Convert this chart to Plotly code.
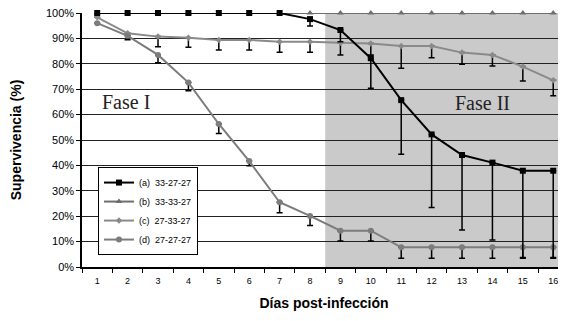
import plotly.graph_objects as go

dias = list(range(1, 17))
tick_labels = [str(d) for d in dias]

serie_a = [100, 100, 100, 100, 100, 100, 100, 97.6, 93.3, 82.2, 65.7, 52.2, 44.1, 41.1, 37.9, 37.9]
err_a = [0, 0, 0, 0, 0, 0, 0, 2.7, 4.6, 11.8, 21.3, 28.8, 29.5, 30.5, 34.2, 34.2]

serie_b = [100] * 16
err_b = [0] * 16

serie_c = [98.3, 92, 90.7, 90.3, 89.4, 89.4, 88.7, 88.7, 88.3, 88, 87, 87, 84.4, 83.5, 78.9, 73.5]
err_c = [0, 0, 4, 3.8, 4, 4, 4.2, 4.2, 4.8, 4.5, 8.8, 4.6, 4.6, 4.4, 5.7, 6.1]

serie_d = [96, 91, 83.5, 72.6, 56.3, 41.7, 25.5, 20.1, 14.3, 14.3, 7.75, 7.75, 7.75, 7.75, 7.75, 7.75]
err_d = [0, 1.5, 3.1, 3.2, 3.7, 1.8, 4.1, 3.8, 4.1, 4.1, 4.3, 4.3, 4.3, 4.3, 4.3, 4.3]

nombres = ["(a)  33-27-27", "(b)  33-33-27", "(c)  27-33-27", "(d)  27-27-27"]

fig = go.Figure()

def err(arr):
    return dict(type="data", symmetric=False, array=[0] * len(arr), arrayminus=arr,
                color="black", thickness=1.5, width=3)

fig.add_trace(go.Scatter(x=dias, y=serie_b, name=nombres[1], mode="lines+markers",
                         line=dict(color="#6e6e6e", width=2), cliponaxis=False,
                         marker=dict(symbol="triangle-up", size=6, color="#6e6e6e"),
                         error_y=err(err_b), legendrank=2))
fig.add_trace(go.Scatter(x=dias, y=serie_c, name=nombres[2], mode="lines+markers",
                         line=dict(color="#8a8a8a", width=2), cliponaxis=False,
                         marker=dict(symbol="diamond", size=5, color="#8a8a8a"),
                         error_y=err(err_c), legendrank=3))
fig.add_trace(go.Scatter(x=dias, y=serie_d, name=nombres[3], mode="lines+markers",
                         line=dict(color="#7c7c7c", width=2), cliponaxis=False,
                         marker=dict(symbol="circle", size=6, color="#7c7c7c"),
                         error_y=err(err_d), legendrank=4))
fig.add_trace(go.Scatter(x=dias, y=serie_a, name=nombres[0], mode="lines+markers",
                         line=dict(color="black", width=2), cliponaxis=False,
                         marker=dict(symbol="square", size=6, color="black"),
                         error_y=err(err_a), legendrank=1))

fig.add_shape(type="rect", xref="x", yref="y", x0=8.5, x1=16.5, y0=0, y1=100,
              fillcolor="#cacaca", line=dict(width=0), layer="below")

fig.add_annotation(x=1.1, y=64.8, xref="x", yref="y", text="Fase I", showarrow=False,
                   xanchor="left", yanchor="middle",
                   font=dict(family="Liberation Serif", size=20, color="#222"))
fig.add_annotation(x=12.7, y=64.4, xref="x", yref="y", text="Fase II", showarrow=False,
                   xanchor="left", yanchor="middle",
                   font=dict(family="Liberation Serif", size=20, color="#222"))

fig.update_layout(
    width=558, height=313,
    margin=dict(l=74, r=0, t=5, b=54),
    plot_bgcolor="white", paper_bgcolor="white",
    font=dict(family="Liberation Sans", color="black"),
    showlegend=True,
    legend=dict(x=0.033, y=0.047, xanchor="left", yanchor="bottom",
                bgcolor="white", bordercolor="black", borderwidth=1,
                font=dict(size=9), tracegroupgap=0, itemwidth=30),
)

fig.update_xaxes(range=[0.5, 16.42], tickvals=dias, ticktext=tick_labels, automargin=False,
                 showgrid=False, zeroline=False, showline=True, linecolor="black", linewidth=1.5,
                 ticks="", tickfont=dict(size=9), ticklabelstandoff=4, ticklabeloverflow="allow",
                 minor=dict(tick0=0.5, dtick=1, ticks="outside", ticklen=4, tickcolor="black"),
                 title=dict(text="<b>Días post-infección</b>", font=dict(size=14), standoff=14))
fig.update_yaxes(range=[0, 100], dtick=10, ticksuffix="%", automargin=False,
                 showgrid=True, gridcolor="#222", gridwidth=1, zeroline=False,
                 showline=True, linecolor="black", linewidth=1.5, ticklabeloverflow="allow",
                 ticks="outside", ticklen=4, tickcolor="black", tickfont=dict(size=11),
                 title=dict(text="<b>Supervivencia (%)</b>", font=dict(size=14), standoff=25))

fig.write_html("out.html")
